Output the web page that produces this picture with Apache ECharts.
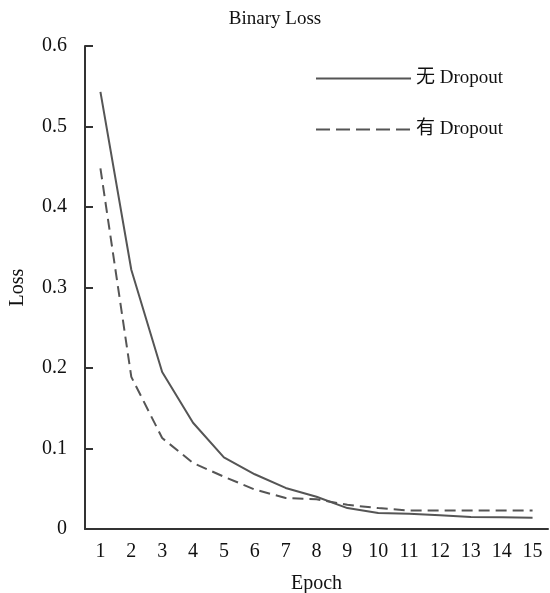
<!DOCTYPE html>
<html>
<head>
<meta charset="utf-8">
<script src="https://cdn.jsdelivr.net/npm/echarts@6/dist/echarts.min.js"></script>
<style>html,body{margin:0;padding:0;background:#fff}#c{width:550px;height:593px}</style>
</head>
<body>
<div id="c"></div>
<script>
const epochs = ['1','2','3','4','5','6','7','8','9','10','11','12','13','14','15'];
const noDropout = [0.543, 0.322, 0.195, 0.132, 0.089, 0.068, 0.051, 0.040, 0.026, 0.020, 0.019, 0.017, 0.015, 0.0145, 0.014];
const withDropout = [0.448, 0.189, 0.113, 0.082, 0.065, 0.049, 0.0385, 0.037, 0.030, 0.026, 0.023, 0.023, 0.023, 0.023, 0.023];
const seriesNames = ['无 Dropout', '有 Dropout'];
const FONT = '"Liberation Serif", "Noto Sans CJK SC", serif';

const chart = echarts.init(document.getElementById('c'), null, {renderer: 'canvas'});
chart.setOption({
  animation: false,
  backgroundColor: '#fff',
  title: {
    text: 'Binary Loss', left: 'center', top: 5,
    textStyle: {fontFamily: FONT, fontSize: 19, fontWeight: 'normal', color: '#111'}
  },
  legend: {
    orient: 'vertical', left: 310, top: 64,
    itemWidth: 95, itemHeight: 14, itemGap: 32,
    itemStyle: {opacity: 0},
    textStyle: {fontFamily: FONT, fontSize: 19, color: '#111'},
    data: [
      {name: seriesNames[0]},
      {name: seriesNames[1], lineStyle: {type: [14, 6]}}
    ]
  },
  grid: {left: 85, right: 2, top: 46, bottom: 64, containLabel: false, outerBoundsMode: 'none'},
  xAxis: {
    type: 'category', data: epochs, boundaryGap: true,
    name: 'Epoch', nameLocation: 'middle', nameGap: 45,
    nameTextStyle: {fontFamily: FONT, fontSize: 20, color: '#111'},
    axisLine: {lineStyle: {color: '#333', width: 2}},
    axisTick: {inside: true, length: 8, lineStyle: {color: '#333', width: 2}},
    axisLabel: {fontFamily: FONT, fontSize: 20, color: '#111', margin: 13, interval: 0},
    splitLine: {show: false}
  },
  yAxis: {
    type: 'value', min: 0, max: 0.6, interval: 0.1,
    name: 'Loss', nameLocation: 'middle', nameGap: 57,
    nameTextStyle: {fontFamily: FONT, fontSize: 20, color: '#111'},
    axisLine: {show: true, lineStyle: {color: '#333', width: 2}},
    axisTick: {show: true, inside: true, length: 8, lineStyle: {color: '#333', width: 2}},
    axisLabel: {fontFamily: FONT, fontSize: 20, color: '#111', margin: 18},
    splitLine: {show: false}
  },
  series: [
    {
      name: seriesNames[0], type: 'line', data: noDropout, symbol: 'none',
      lineStyle: {color: '#555', width: 2, type: 'solid'},
      itemStyle: {color: '#555'}
    },
    {
      name: seriesNames[1], type: 'line', data: withDropout, symbol: 'none',
      lineStyle: {color: '#555', width: 2, type: [11, 6]},
      itemStyle: {color: '#555'}
    }
  ]
});
</script>
</body>
</html>
